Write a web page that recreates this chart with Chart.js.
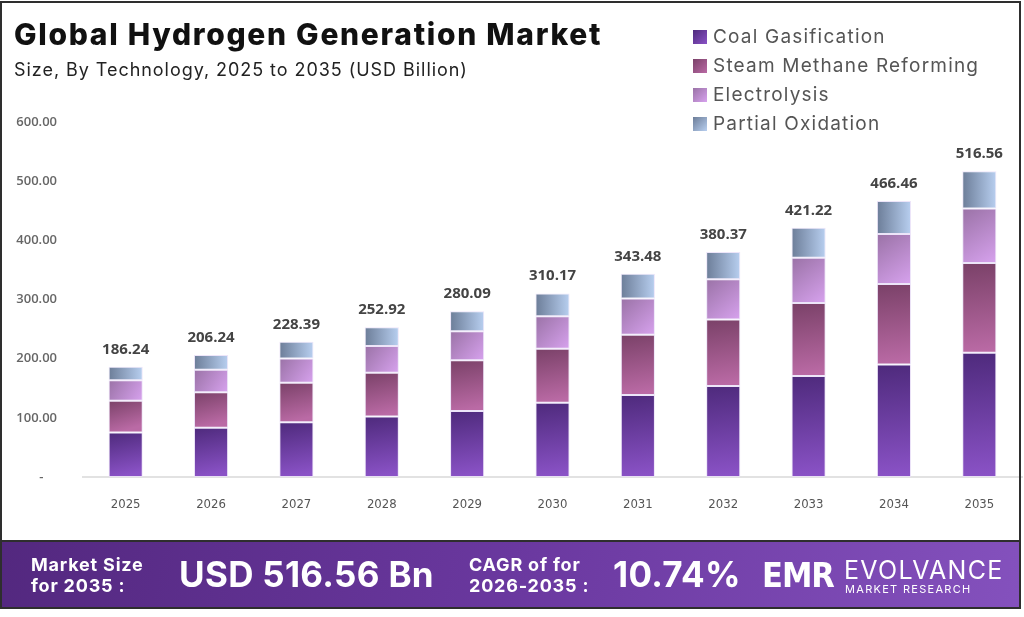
<!DOCTYPE html>
<html>
<head>
<meta charset="utf-8">
<script src="https://cdn.jsdelivr.net/npm/chart.js@4.4.1/dist/chart.umd.min.js"></script>
<style>
  html, body { margin: 0; padding: 0; background: #fff; }
  body { width: 1024px; height: 617px; position: relative; overflow: hidden; font-family: "Inter", "Open Sans", sans-serif; }
  .card { position: absolute; left: 0; top: 1px; width: 1021px; height: 608px; border: 2px solid #2e2e2e; box-sizing: border-box; }
  #chartWrap { position: absolute; left: 0; top: 0; width: 1024px; height: 540px; }
  .title { position: absolute; left: 14px; top: 16px; font-size: 30px; font-weight: 800; color: #111; letter-spacing: 1.7px; }
  .subtitle { position: absolute; left: 14px; top: 59px; font-size: 18px; color: #222; letter-spacing: 0.95px; }
  .legend { position: absolute; left: 693px; top: 22px; }
  .legend div { height: 29px; display: flex; align-items: center; font-size: 19px; color: #555; letter-spacing: 1.2px; }
  .legend span.box { width: 14px; height: 14px; margin-right: 6px; display: inline-block; }
  .banner { position: absolute; left: 0; top: 540px; width: 1021px; height: 69px; box-sizing: border-box; border: 2px solid #2e2e2e;
            background: linear-gradient(100deg, #53287f 0%, #6a389f 50%, #8451bd 100%); color: #fff; }
  .banner div { position: absolute; font-weight: 700; }
  .small { font-size: 18px; line-height: 21px; top: 12px; letter-spacing: 0.8px; }
  .big { font-size: 35px; top: 11px; letter-spacing: 0.3px; }
</style>
</head>
<body>
<div id="chartWrap"><canvas id="chart"></canvas></div>
<div class="card"></div>
<div class="title">Global Hydrogen Generation Market</div>
<div class="subtitle">Size, By Technology, 2025 to 2035 (USD Billion)</div>
<div class="legend" id="legend"></div>
<div class="banner">
  <div class="small" style="left:29px;">Market Size<br>for 2035 :</div>
  <div class="big" style="left:177px;">USD 516.56 Bn</div>
  <div class="small" style="left:467px;">CAGR of for<br>2026-2035 :</div>
  <div class="big" style="left:611px;">10.74%</div>
  <div style="left:760px; top:13px; font-size:34px; font-family:'DejaVu Sans Condensed', sans-serif; letter-spacing:-1px;">EMR</div>
  <div style="left:842px; top:13px; font-size:25px; font-weight:400; letter-spacing:1.3px;">EVOLVANCE</div>
  <div style="left:843px; top:40px; font-size:11px; font-weight:400; letter-spacing:1.3px;">MARKET RESEARCH</div>
</div>
<script>
const years = ['2025', '2026', '2027', '2028', '2029', '2030', '2031', '2032', '2033', '2034', '2035'];
const coalGasification = [75.4, 83.2, 92.4, 102.1, 111.5, 125.5, 138.8, 154.0, 170.9, 190.0, 210.0];
const steamMethane = [53.6, 60.2, 67.0, 74.3, 85.7, 91.1, 101.8, 112.1, 123.2, 136.2, 151.6];
const electrolysis = [34.6, 38.0, 40.8, 45.2, 49.1, 55.3, 61.2, 68.3, 76.4, 84.3, 92.4];
const partialOxidation = [22.6, 24.8, 28.2, 31.3, 33.8, 38.3, 41.7, 45.9, 50.7, 55.9, 62.6];
const totals = [186.24, 206.24, 228.39, 252.92, 280.09, 310.17, 343.48, 380.37, 421.22, 466.46, 516.56];
const yTicks = [0, 100, 200, 300, 400, 500, 600];

const seriesData = [coalGasification, steamMethane, electrolysis, partialOxidation];
const seriesStyle = [
  { name: 'Coal Gasification', c1: '#4e2a7c', c2: '#8a52c6', dir: 'v' },
  { name: 'Steam Methane Reforming', c1: '#7a4168', c2: '#ba6aa5', dir: 'v' },
  { name: 'Electrolysis', c1: '#9a72a6', c2: '#d7a2ee', dir: 'd' },
  { name: 'Partial Oxidation', c1: '#6c7d98', c2: '#b8cff0', dir: 'h' }
];
const BAR_HALF = 17;

document.getElementById('legend').innerHTML = seriesStyle
  .map(s => `<div><span class="box" style="background:linear-gradient(135deg, ${s.c1}, ${s.c2})"></span>${s.name}</div>`)
  .join('');

// gradient for one stacked segment, from its place on the scales
function segmentFill(context) {
  const chart = context.chart;
  const st = seriesStyle[context.datasetIndex];
  const xs = chart.scales.x, ys = chart.scales.y;
  if (!xs || !ys || context.dataIndex === undefined) return st.c2;
  let below = 0;
  for (let k = 0; k < context.datasetIndex; k++) below += seriesData[k][context.dataIndex];
  const top = ys.getPixelForValue(below + seriesData[context.datasetIndex][context.dataIndex]);
  const base = ys.getPixelForValue(below);
  const cx = xs.getPixelForValue(context.dataIndex);
  if (![top, base, cx].every(Number.isFinite)) return st.c2;
  const left = cx - BAR_HALF, right = cx + BAR_HALF;
  const ctx = chart.ctx;
  let g;
  if (st.dir === 'v') g = ctx.createLinearGradient(left, top, left + 10, base);
  else if (st.dir === 'h') g = ctx.createLinearGradient(left, top, right, top);
  else g = ctx.createLinearGradient(left, top, right, base);
  g.addColorStop(0, st.c1);
  g.addColorStop(1, st.c2);
  return g;
}

const totalsPlugin = {
  id: 'totals',
  afterDatasetsDraw(chart) {
    const ctx = chart.ctx;
    const meta = chart.getDatasetMeta(chart.data.datasets.length - 1);
    ctx.save();
    ctx.font = 'bold 15px "Open Sans", sans-serif';
    ctx.fillStyle = '#444';
    ctx.textAlign = 'center';
    ctx.textBaseline = 'alphabetic';
    meta.data.forEach((bar, i) => {
      ctx.fillText(totals[i].toFixed(2), bar.x, bar.y - 13);
    });
    ctx.restore();
  }
};

new Chart(document.getElementById('chart'), {
  type: 'bar',
  data: {
    labels: years,
    datasets: seriesData.map((d, i) => ({
      label: seriesStyle[i].name,
      data: d,
      backgroundColor: segmentFill,
      borderColor: 'rgba(232,222,248,0.8)',
      borderWidth: 1,
      borderSkipped: false,
      barPercentage: 0.4,
      categoryPercentage: 1
    }))
  },
  options: {
    responsive: true,
    maintainAspectRatio: false,
    animation: false,
    layout: { padding: { top: 122, right: 2, bottom: 0, left: 0 } },
    plugins: { legend: { display: false }, tooltip: { enabled: false } },
    scales: {
      x: {
        stacked: true,
        grid: { display: false },
        border: { color: '#e2e2e2', width: 2 },
        ticks: { color: '#555', font: { family: '"DejaVu Sans Condensed", sans-serif', size: 13 }, padding: 12 },
        afterFit(scale) { scale.height = 63; }
      },
      y: {
        stacked: true,
        min: 0,
        max: 600,
        afterBuildTicks(scale) { scale.ticks = yTicks.map(v => ({ value: v })); },
        grid: { display: false },
        border: { display: false },
        ticks: {
          color: '#666',
          font: { family: '"Open Sans", sans-serif', size: 13, weight: '600' },
          padding: 18,
          callback: v => v === 0 ? '-    ' : v.toFixed(2)
        },
        afterFit(scale) { scale.width = 83; }
      }
    }
  },
  plugins: [totalsPlugin]
});
</script>
</body>
</html>
